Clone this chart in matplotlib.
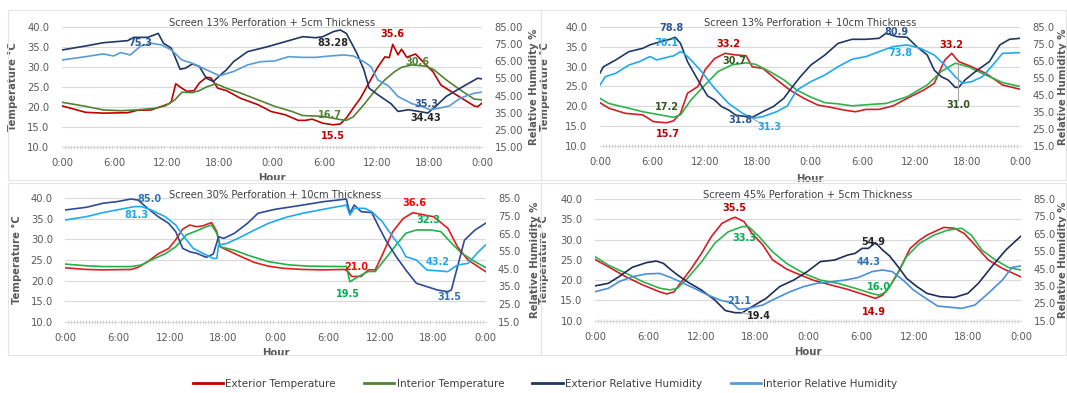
import matplotlib
matplotlib.use("Agg")
import numpy as np
import matplotlib.pyplot as plt
from matplotlib.patches import Rectangle

W, H = 1067, 393
GRAY = "#595959"

# ---- panel 1: Screen 13% Perforation + 5cm Thickness  (hour, value)
p1_ext_temp = [(0, 20.3), (2.7, 18.7), (4.7, 18.5), (7.5, 18.6), (8.6, 19.2), (10.2, 19.3), (11.4, 20.2),
               (12.2, 20.8), (12.5, 21.4), (13.0, 25.8), (13.7, 24.7), (14.3, 23.9), (15.1, 24.1), (15.7, 26.0),
               (16.5, 27.4), (17.0, 27.3), (17.8, 24.7), (18.8, 24.1), (20.4, 22.2), (22.4, 20.6), (23.9, 18.9),
               (25.5, 18.1), (27.0, 16.7), (27.8, 16.7), (28.6, 17.0), (29.8, 16.0), (31.0, 15.6), (31.8, 15.8),
               (32.5, 17.3), (33.3, 19.8), (34.1, 22.2), (36.1, 30.0), (36.9, 32.5), (37.4, 32.3), (37.8, 35.6),
               (38.4, 33.0), (38.8, 34.4), (39.4, 32.4), (40.4, 33.2), (41.6, 30.5), (42.4, 28.8), (43.3, 25.5),
               (45.1, 23.0), (47.1, 20.3), (47.5, 20.1), (48, 21.0)]
p1_int_temp = [(0, 21.2), (2.7, 20.2), (4.7, 19.3), (6.7, 19.1), (8.6, 19.3), (10.6, 19.7), (11.8, 20.3),
               (12.9, 21.8), (13.7, 23.7), (14.9, 23.6), (15.7, 24.1), (16.5, 25.0), (17.6, 25.8), (18.8, 24.7),
               (20.4, 23.5), (22.4, 21.8), (24.3, 20.2), (26.3, 18.9), (27.5, 17.9), (29.8, 17.7), (31.8, 16.9),
               (32.5, 16.7), (33.3, 17.6), (34.5, 20.6), (35.7, 23.9), (36.9, 26.8), (38.0, 28.8), (38.8, 29.9),
               (40.0, 30.5), (41.6, 30.2), (42.5, 29.3), (43.9, 26.8), (45.5, 24.3), (47.1, 22.0), (48, 21.8)]
p1_ext_rh = [(0, 71.5), (2.7, 73.8), (4.7, 75.7), (7.5, 76.9), (8.2, 78.8), (9.8, 78.8), (11.0, 81.1),
             (11.6, 75.4), (12.5, 72.5), (13.5, 60.3), (14.1, 60.9), (14.9, 63.4), (15.7, 61.9), (16.5, 55.1),
             (17.3, 53.2), (18.0, 56.5), (18.8, 60.0), (19.6, 64.7), (21.2, 70.5), (23.5, 73.4), (25.5, 76.3),
             (27.5, 79.2), (29.0, 78.6), (29.8, 79.2), (31.0, 82.1), (31.8, 83.1), (32.5, 81.1), (33.7, 69.6),
             (34.5, 60.0), (35.1, 49.3), (36.1, 45.5), (37.6, 40.3), (38.4, 35.8), (39.6, 36.8), (40.8, 35.8),
             (41.8, 34.9), (42.7, 38.7), (43.9, 44.5), (45.5, 49.3), (47.5, 55.1), (48, 54.7)]
p1_int_rh = [(0, 65.7), (2.7, 67.6), (4.7, 69.2), (5.9, 68.0), (6.7, 70.0), (7.8, 68.6), (9.0, 73.8),
             (10.2, 75.4), (11.4, 74.4), (12.5, 71.5), (13.7, 65.7), (14.9, 63.8), (16.5, 60.0), (18.0, 56.5),
             (19.6, 59.0), (21.2, 62.8), (22.7, 64.7), (24.3, 65.1), (25.9, 67.6), (27.5, 67.2), (29.0, 67.2),
             (30.6, 68.0), (32.2, 68.6), (33.3, 68.0), (34.5, 64.7), (35.3, 61.9), (36.1, 54.1), (37.3, 50.7),
             (38.4, 44.5), (40.0, 40.3), (41.2, 38.7), (42.0, 36.8), (43.1, 37.7), (44.3, 39.1), (45.5, 43.5),
             (47.1, 46.4), (48, 47.0)]

# ---- panel 2: Screen 13% Perforation + 10cm Thickness
p2_ext_temp = [(0, 20.9), (1.0, 19.5), (2.9, 18.2), (4.9, 17.8), (6.1, 16.1), (7.6, 15.8), (8.4, 16.3),
               (9.2, 18.2), (10.0, 23.3), (11.2, 25.0), (12.0, 29.2), (13.1, 32.1), (14.3, 33.4), (15.5, 33.0),
               (16.7, 32.8), (17.4, 30.0), (18.6, 29.6), (20.2, 26.7), (21.7, 24.1), (23.3, 22.0), (24.9, 20.3),
               (26.4, 19.7), (28.0, 19.0), (29.2, 18.6), (30.4, 19.2), (31.9, 19.2), (33.5, 20.1), (35.1, 22.0),
               (37.0, 24.1), (38.2, 25.8), (39.4, 31.7), (40.2, 33.4), (41.0, 31.3), (42.5, 30.0), (44.1, 28.3),
               (46.0, 25.4), (48, 24.3)]
p2_int_temp = [(0, 22.0), (1.0, 20.7), (2.9, 19.7), (4.9, 18.6), (6.9, 17.8), (8.4, 17.2), (9.2, 17.8),
               (10.4, 21.6), (12.0, 25.4), (13.5, 28.8), (15.1, 30.5), (16.7, 31.0), (17.8, 30.6), (19.4, 28.8),
               (21.0, 26.7), (22.5, 24.1), (24.1, 22.3), (25.7, 20.9), (27.2, 20.6), (28.8, 20.1), (31.2, 20.5),
               (32.7, 20.7), (35.1, 22.4), (37.4, 25.4), (39.0, 28.8), (40.6, 30.9), (42.1, 30.0), (43.7, 28.3),
               (46.0, 26.0), (48, 25.0)]
p2_ext_rh = [(0, 58.0), (0.4, 61.7), (1.8, 65.7), (3.3, 70.6), (4.9, 72.6), (5.7, 74.6), (6.9, 76.5),
             (8.0, 77.9), (8.6, 79.1), (9.2, 75.5), (10.0, 64.7), (11.2, 53.8), (12.3, 44.4), (13.1, 42.0),
             (13.9, 38.1), (14.7, 36.1), (15.5, 33.1), (16.7, 32.2), (17.4, 31.8), (18.6, 35.1), (19.8, 38.1),
             (21.0, 43.0), (21.7, 47.9), (22.9, 55.8), (24.1, 62.7), (25.7, 68.6), (27.2, 75.5), (28.8, 77.9),
             (30.4, 77.9), (31.9, 78.5), (32.7, 81.5), (33.9, 79.5), (35.1, 79.1), (36.2, 73.6), (37.4, 68.6),
             (38.2, 59.7), (39.0, 55.8), (39.8, 53.8), (40.6, 49.5), (41.0, 49.5), (41.7, 53.8), (42.9, 58.8),
             (44.5, 64.7), (45.7, 74.6), (46.8, 77.9), (48, 78.5)]
p2_int_rh = [(0, 50.9), (0.6, 55.8), (1.8, 57.8), (3.3, 62.7), (4.5, 64.7), (5.7, 67.7), (6.5, 65.7),
             (8.0, 67.7), (8.4, 68.1), (9.2, 70.6), (9.6, 69.6), (10.4, 65.7), (11.6, 58.8), (13.1, 48.9),
             (14.7, 40.0), (16.3, 34.1), (17.4, 31.2), (18.6, 32.2), (20.2, 35.1), (21.4, 38.5), (22.5, 47.9),
             (24.1, 52.9), (25.7, 56.8), (27.2, 61.7), (28.8, 66.1), (30.4, 67.7), (31.9, 70.6), (33.5, 73.6),
             (35.1, 74.6), (36.6, 72.6), (38.2, 68.6), (39.4, 62.7), (40.6, 55.8), (41.4, 51.9), (42.5, 52.9),
             (43.7, 55.8), (44.9, 62.7), (46.0, 69.6), (48, 70.0)]

# ---- panel 3: Screen 30% Perforation + 10cm Thickness
p3_ext_temp = [(0, 23.1), (2.4, 22.7), (4.3, 22.6), (7.5, 22.7), (8.3, 23.2), (9.4, 24.6), (10.6, 26.5),
               (11.8, 27.8), (12.6, 29.9), (13.4, 32.5), (14.2, 33.5), (15.0, 33.1), (15.7, 33.3), (16.7, 34.1),
               (17.3, 31.9), (17.7, 28.2), (18.5, 27.4), (20.1, 25.8), (21.6, 24.4), (23.2, 23.5), (24.8, 23.0),
               (27.1, 22.7), (29.5, 22.6), (31.9, 22.7), (32.3, 22.2), (32.7, 21.0), (33.8, 21.0), (34.6, 22.6),
               (35.4, 22.6), (36.2, 26.2), (37.4, 31.9), (38.6, 35.1), (39.7, 36.5), (40.9, 36.0), (42.1, 35.5),
               (43.7, 32.7), (44.8, 28.2), (46.0, 25.0), (48, 22.2)]
p3_int_temp = [(0, 24.0), (2.4, 23.6), (4.3, 23.4), (7.5, 23.4), (8.7, 23.8), (9.8, 25.0), (11.4, 26.5),
               (12.6, 28.2), (13.8, 31.1), (15.0, 32.1), (16.1, 33.1), (16.7, 33.5), (17.3, 31.5), (17.7, 28.2),
               (19.3, 27.4), (20.8, 26.2), (23.2, 24.6), (25.6, 23.8), (27.9, 23.5), (31.9, 23.4), (32.1, 23.5),
               (32.5, 19.7), (33.5, 21.0), (34.6, 22.2), (35.4, 22.2), (36.6, 25.4), (37.8, 28.7), (38.9, 31.5),
               (40.1, 32.3), (41.7, 32.3), (42.9, 31.9), (44.1, 29.1), (45.3, 26.6), (46.8, 24.6), (48, 23.2)]
p3_ext_rh = [(0, 78.4), (2.4, 79.9), (4.3, 82.2), (5.9, 83.1), (7.5, 84.6), (8.3, 84.0), (9.4, 79.3),
             (10.6, 74.6), (11.8, 70.8), (12.6, 66.1), (13.4, 56.6), (14.2, 54.7), (15.0, 53.8), (16.1, 51.5),
             (16.9, 53.4), (17.5, 63.2), (18.1, 62.3), (19.3, 65.1), (20.8, 70.8), (22.0, 76.5), (24.0, 78.8),
             (26.0, 80.3), (27.9, 81.8), (29.5, 83.1), (31.1, 84.0), (32.1, 84.6), (32.5, 76.5), (33.0, 81.2),
             (33.8, 77.4), (35.0, 76.9), (35.8, 68.9), (36.6, 61.3), (37.8, 51.9), (38.9, 44.3), (40.1, 36.8),
             (41.3, 34.9), (42.5, 33.0), (43.7, 32.0), (44.1, 33.0), (44.8, 46.2), (45.6, 61.3), (46.8, 67.0),
             (48, 70.8)]
p3_int_rh = [(0, 72.7), (2.4, 74.6), (4.3, 76.9), (6.3, 78.8), (7.9, 80.3), (8.7, 80.3), (9.8, 78.4),
             (11.4, 74.6), (12.6, 69.9), (13.4, 64.2), (14.6, 56.6), (15.7, 53.8), (16.9, 50.9), (17.3, 50.9),
             (17.5, 58.5), (18.5, 59.5), (20.1, 63.2), (21.6, 67.0), (23.2, 70.8), (25.2, 74.2), (27.1, 76.5),
             (29.5, 78.8), (31.5, 80.6), (32.1, 81.2), (32.5, 75.5), (33.0, 79.3), (34.2, 79.3), (35.0, 77.4),
             (36.2, 71.8), (37.4, 63.2), (38.4, 56.6), (38.9, 51.9), (40.1, 50.0), (41.3, 44.3), (42.5, 43.9),
             (43.7, 43.4), (44.8, 47.2), (46.0, 48.1), (47.2, 54.7), (48, 58.5)]

# ---- panel 4: Screem 45% Perforation + 5cm Thickness
p4_ext_temp = [(0, 25.1), (1.5, 23.3), (3.5, 20.8), (5.4, 18.8), (7.3, 17.1), (8.1, 16.6), (8.9, 17.1),
               (9.6, 19.2), (10.8, 22.7), (12.0, 26.6), (13.1, 30.7), (14.3, 34.0), (15.4, 35.2), (15.8, 35.5),
               (16.8, 34.4), (17.7, 31.5), (18.9, 28.7), (20.0, 25.0), (21.6, 22.7), (23.1, 21.3), (24.7, 19.9),
               (26.6, 18.8), (28.5, 17.7), (30.5, 16.3), (31.6, 15.5), (32.4, 16.3), (33.2, 18.4), (34.3, 22.5),
               (35.5, 27.8), (36.6, 29.9), (37.4, 31.1), (38.2, 31.9), (39.3, 33.0), (40.5, 32.8), (41.6, 31.5),
               (42.8, 28.7), (44.3, 25.0), (45.9, 22.9), (48, 20.8)]
p4_int_temp = [(0, 25.8), (1.5, 23.7), (3.5, 21.7), (5.4, 19.6), (7.3, 18.0), (8.5, 17.6), (9.3, 18.0),
               (10.4, 20.4), (12.0, 24.5), (13.5, 29.1), (15.0, 31.9), (16.6, 33.2), (17.3, 33.2), (18.5, 30.7),
               (20.0, 27.0), (21.6, 24.1), (23.5, 21.7), (25.4, 20.0), (27.4, 19.2), (29.3, 18.0), (31.2, 16.7),
               (32.0, 16.3), (32.8, 17.1), (33.9, 20.8), (35.1, 25.8), (36.6, 29.1), (38.2, 31.1), (39.7, 32.3),
               (41.3, 32.8), (42.4, 31.1), (43.6, 27.4), (45.1, 25.0), (46.6, 23.1), (48, 22.5)]
p4_ext_rh = [(0, 35.0), (1.5, 36.5), (2.7, 40.3), (4.2, 45.7), (5.8, 48.4), (6.9, 49.3), (7.7, 48.0),
             (8.5, 44.5), (9.3, 41.3), (10.4, 37.4), (12.0, 32.6), (13.5, 26.9), (14.7, 20.8), (15.8, 19.6),
             (16.6, 19.6), (17.7, 23.1), (19.3, 27.9), (20.8, 34.6), (22.4, 38.4), (23.9, 43.2), (25.4, 49.0),
             (27.0, 49.9), (28.5, 52.8), (29.3, 53.7), (30.1, 56.6), (30.8, 56.6), (31.6, 59.9), (32.4, 55.7),
             (33.2, 52.2), (34.3, 45.1), (35.1, 39.4), (36.2, 34.9), (37.4, 30.7), (38.9, 28.8), (40.5, 28.4),
             (42.0, 30.7), (43.2, 36.5), (44.7, 46.1), (46.3, 55.7), (48, 63.7)]
p4_int_rh = [(0, 31.7), (1.5, 33.6), (2.7, 37.4), (4.2, 40.3), (5.8, 41.9), (7.3, 42.2), (8.5, 39.9),
             (9.6, 37.4), (11.2, 33.6), (12.7, 29.8), (14.3, 26.5), (15.4, 25.4), (16.2, 21.5), (17.3, 22.1),
             (18.9, 24.0), (20.4, 27.9), (22.0, 31.7), (23.5, 34.6), (25.0, 36.5), (26.6, 37.4), (28.2, 38.4),
             (29.7, 39.9), (31.2, 43.2), (32.4, 44.2), (33.5, 43.2), (34.7, 38.4), (35.9, 32.6), (37.0, 28.8),
             (38.6, 23.4), (40.1, 22.7), (41.3, 22.1), (42.8, 24.0), (44.3, 30.7), (45.9, 38.4), (47.0, 45.7),
             (48, 46.5)]

# labels: (text, hour, position on temperature scale, colour)
p1_labels = [("75.3", 9.0, 35.9, "#2F5597"), ("83.28", 31.0, 36.0, "#262626"), ("35.6", 37.8, 38.1, "#C00000"),
             ("30.6", 40.6, 31.1, "#548235"), ("16.7", 30.6, 18.1, "#548235"), ("15.5", 31.0, 12.9, "#C00000"),
             ("35.3", 41.6, 20.8, "#2F5597"), ("34.43", 41.6, 17.3, "#262626")]
p2_labels = [("78.8", 8.2, 39.8, "#2F5597"), ("70.1", 7.6, 36.1, "#1FA8E8"), ("33.2", 14.7, 35.7, "#C00000"),
             ("30.7", 15.3, 31.5, "#375623"), ("17.2", 7.6, 19.7, "#375623"), ("15.7", 7.8, 13.0, "#C00000"),
             ("31.8", 16.1, 16.5, "#2F5597"), ("31.3", 19.3, 14.8, "#1FA8E8"), ("80.9", 33.9, 38.9, "#2F5597"),
             ("73.8", 34.3, 33.4, "#1FA8E8"), ("33.2", 40.2, 35.5, "#C00000"), ("31.0", 40.9, 20.4, "#375623")]
p3_labels = [("85.0", 9.6, 39.8, "#2E75B6"), ("81.3", 8.1, 36.0, "#1FA8E8"), ("36.6", 39.9, 38.8, "#FF0000"),
             ("32.3", 41.5, 34.7, "#00B050"), ("21.0", 33.2, 23.2, "#FF0000"), ("19.5", 32.3, 16.7, "#00B050"),
             ("43.2", 42.5, 24.6, "#1FA8E8"), ("31.5", 43.9, 15.9, "#2E75B6")]
p4_labels = [("35.5", 15.7, 37.7, "#C00000"), ("33.3", 16.8, 30.5, "#00B050"), ("21.1", 16.3, 14.9, "#2E75B6"),
             ("19.4", 18.5, 11.2, "#262626"), ("54.9", 31.4, 29.5, "#262626"), ("44.3", 30.8, 24.4, "#2E75B6"),
             ("16.0", 32.0, 18.4, "#00B050"), ("14.9", 31.4, 12.2, "#C00000")]
# leader lines: (label hour, label temp, target hour, target temp)
p2_leaders = [(18.6, 15.4, 17.4, 16.9), (40.9, 21.6, 40.9, 30.8)]
p4_leaders = [(17.6, 11.4, 16.6, 12.0)]

LEGEND = ["Exterior Temperature", "Interior Temperature", "Exterior Relative Humidity", "Interior Relative Humidity"]
LEGEND_COLORS = ["#C00000", "#548235", "#1F3864", "#5B9BD5"]
XTICK_LABELS = ["0:00", "6:00", "12:00", "18:00", "0:00", "6:00", "12:00", "18:00", "0:00"]


def px_rect(left, top, right, bottom):
    return [left / W, 1 - bottom / H, (right - left) / W, (bottom - top) / H]


def temp_to_rh(t):
    # the label positions are read on the temperature scale; map them to the RH axis
    return (t - 10) * 70 / 30 + 15


panels = [
    dict(rect=(62, 26.7, 482, 147.3), frame=(8, 10, 541, 180),
         title="Screen 13% Perforation + 5cm Thickness", title_y=22.7, rh_fmt="{:.2f}",
         series=[p1_ext_temp, p1_int_temp, p1_ext_rh, p1_int_rh],
         colors=["#C00000", "#548235", "#1F3864", "#5B9BD5"],
         labels=p1_labels, leaders=[], lab=(-0.105, 1.112, -0.213)),
    dict(rect=(600, 27.3, 1020, 145.7), frame=(541, 10, 1066, 180),
         title="Screen 13% Perforation + 10cm Thickness", title_y=22.7, rh_fmt="{:.1f}",
         series=[p2_ext_temp, p2_int_temp, p2_ext_rh, p2_int_rh],
         colors=["#D01F26", "#2DB34A", "#1F3864", "#1FAAF0"],
         labels=p2_labels, leaders=p2_leaders, lab=(-0.118, 1.090, -0.239)),
    dict(rect=(65.4, 198.3, 485.5, 321.7), frame=(8, 183, 541, 355),
         title="Screen 30% Perforation + 10cm Thickness", title_y=195, rh_fmt="{:.1f}",
         series=[p3_ext_temp, p3_int_temp, p3_ext_rh, p3_int_rh],
         colors=["#E0201E", "#22B04B", "#2D4A99", "#1FAAF0"],
         labels=p3_labels, leaders=[], lab=(-0.103, 1.106, -0.213)),
    dict(rect=(595, 199, 1021, 320.7), frame=(541, 183, 1066, 355),
         title="Screem 45% Perforation + 5cm Thickness", title_y=195, rh_fmt="{:.1f}",
         series=[p4_ext_temp, p4_int_temp, p4_ext_rh, p4_int_rh],
         colors=["#D01F26", "#2DB34A", "#1F2D5A", "#4A8FD9"],
         labels=p4_labels, leaders=p4_leaders, lab=(-0.108, 1.087, -0.216)),
]

fig = plt.figure(figsize=(W / 100, H / 100), dpi=100)

for p in panels:
    l, t, r, b = p["frame"]
    fig.patches.append(Rectangle((l / W, 1 - b / H), (r - l) / W, (b - t) / H, transform=fig.transFigure,
                                 fill=False, edgecolor="#E4E4E4", lw=0.8))

    ax = fig.add_axes(px_rect(*p["rect"]))
    ax2 = ax.twinx()

    for i, s in enumerate(p["series"]):
        hrs = [v[0] for v in s]
        vals = [v[1] for v in s]
        target = ax if i < 2 else ax2
        target.plot(hrs, vals, color=p["colors"][i], lw=1.2)

    ax.set_xlim(0, 48)
    ax.set_ylim(10, 40)
    ax2.set_ylim(15, 85)
    ax.set_yticks(np.arange(10, 41, 5))
    ax.set_yticklabels([f"{v:.1f}" for v in np.arange(10, 41, 5)])
    ax2.set_yticks(np.arange(15, 86, 10))
    ax2.set_yticklabels([p["rh_fmt"].format(v) for v in np.arange(15, 86, 10)])
    ax.set_xticks(np.arange(0, 49, 6))
    ax.set_xticklabels(XTICK_LABELS)
    ax.set_xticks(np.arange(0, 48.01, 1 / 3), minor=True)

    ax.grid(axis="y", color="#D9D9D9", lw=0.8)
    ax.set_axisbelow(True)
    for a in (ax, ax2):
        for side in ("top", "left", "right"):
            a.spines[side].set_visible(False)
    ax2.spines["bottom"].set_visible(False)
    ax.spines["bottom"].set_color("#D9D9D9")
    ax.spines["bottom"].set_linewidth(0.8)

    ax.tick_params(axis="y", length=0, pad=9, labelsize=7.2, labelcolor=GRAY)
    ax2.tick_params(axis="y", length=0, pad=9, labelsize=7.2, labelcolor=GRAY)
    ax.tick_params(axis="x", which="major", length=0, pad=8, labelsize=7.2, labelcolor=GRAY)
    ax.tick_params(axis="x", which="minor", length=3.5, direction="inout", color="#D0D0D0", width=0.6)

    ax.set_ylabel("Temperature °C", fontsize=7.3, fontweight="bold", color=GRAY)
    ax2.set_ylabel("Relative Humidity %", fontsize=7.3, fontweight="bold", color=GRAY)
    ax.set_xlabel("Hour", fontsize=7.3, fontweight="bold", color=GRAY)
    ax.yaxis.set_label_coords(p["lab"][0], 0.5)
    ax2.yaxis.set_label_coords(p["lab"][1], 0.5)
    ax.xaxis.set_label_coords(0.5, p["lab"][2])

    cx = (p["rect"][0] + p["rect"][2]) / 2
    fig.text(cx / W, 1 - p["title_y"] / H, p["title"], ha="center", va="center", fontsize=7.2, color="#404040")

    for x0, y0, x1, y1 in p["leaders"]:
        ax2.plot([x0, x1], [temp_to_rh(y0), temp_to_rh(y1)], color="#A6A6A6", lw=0.8)
    for txt, hx, ty, col in p["labels"]:
        ax2.text(hx, temp_to_rh(ty), txt, color=col, fontsize=7, fontweight="bold",
                 ha="center", va="center")

handles = [plt.Line2D([], [], color=c, lw=2) for c in LEGEND_COLORS]
fig.legend(handles, LEGEND, loc="center", bbox_to_anchor=(545 / W, 1 - 384 / H), ncol=4, frameon=False,
           fontsize=7.5, labelcolor="#404040", handlelength=2.9, handletextpad=0.25, columnspacing=2.7)

fig.savefig("out.png", dpi=100)
